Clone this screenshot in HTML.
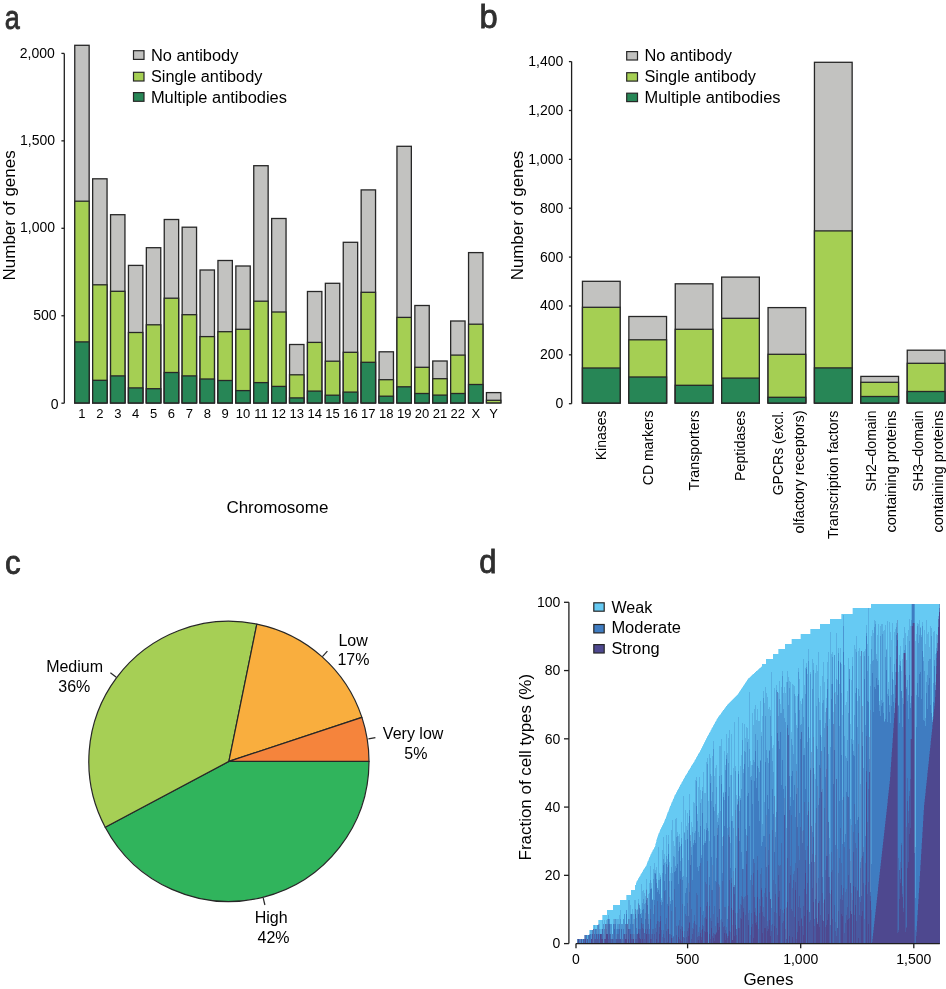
<!DOCTYPE html>
<html><head><meta charset="utf-8"><style>
html,body{margin:0;padding:0;background:#fff;}
svg{display:block;font-family:"Liberation Sans", sans-serif;will-change:transform;}
</style></head><body>
<svg width="946" height="989" viewBox="0 0 946 989">
<rect width="946" height="989" fill="#fff"/>
<text x="4.8" y="28.5" font-size="33" fill="#2f2f2f" stroke="#2f2f2f" stroke-width="0.85" textLength="15.0" lengthAdjust="spacingAndGlyphs">a</text>
<text x="479.6" y="28.1" font-size="34" fill="#2f2f2f" stroke="#2f2f2f" stroke-width="0.85" textLength="18.2" lengthAdjust="spacingAndGlyphs">b</text>
<text x="5.0" y="573.6" font-size="33.5" fill="#2f2f2f" stroke="#2f2f2f" stroke-width="0.85" textLength="15.6" lengthAdjust="spacingAndGlyphs">c</text>
<text x="479.2" y="573.3" font-size="34" fill="#2f2f2f" stroke="#2f2f2f" stroke-width="0.85" textLength="17.2" lengthAdjust="spacingAndGlyphs">d</text>
<path d="M64.3,53.40V403.20" stroke="#1e1e1e" stroke-width="1.3" fill="none"/>
<path d="M61.4,403.20H64.3" stroke="#1e1e1e" stroke-width="1.3"/>
<path d="M61.4,315.75H64.3" stroke="#1e1e1e" stroke-width="1.3"/>
<path d="M61.4,228.30H64.3" stroke="#1e1e1e" stroke-width="1.3"/>
<path d="M61.4,140.85H64.3" stroke="#1e1e1e" stroke-width="1.3"/>
<path d="M61.4,53.40H64.3" stroke="#1e1e1e" stroke-width="1.3"/>
<text x="58.50" y="409.20" font-size="14" text-anchor="end">0</text>
<text x="56.50" y="319.80" font-size="14" text-anchor="end">500</text>
<text x="55.00" y="232.40" font-size="14" text-anchor="end">1,000</text>
<text x="55.00" y="145.20" font-size="14" text-anchor="end">1,500</text>
<text x="54.80" y="57.90" font-size="14" text-anchor="end">2,000</text>
<rect x="74.75" y="45.30" width="14.40" height="357.60" fill="#c2c2c0" stroke="#272727" stroke-width="1.3"/>
<rect x="74.75" y="201.20" width="14.40" height="201.70" fill="#a5cf53" stroke="#272727" stroke-width="1.3"/>
<rect x="74.75" y="341.90" width="14.40" height="61.00" fill="#278656" stroke="#272727" stroke-width="1.3"/>
<text x="81.95" y="417.60" font-size="13" text-anchor="middle">1</text>
<rect x="92.65" y="178.80" width="14.40" height="224.10" fill="#c2c2c0" stroke="#272727" stroke-width="1.3"/>
<rect x="92.65" y="284.80" width="14.40" height="118.10" fill="#a5cf53" stroke="#272727" stroke-width="1.3"/>
<rect x="92.65" y="380.30" width="14.40" height="22.60" fill="#278656" stroke="#272727" stroke-width="1.3"/>
<text x="99.85" y="417.60" font-size="13" text-anchor="middle">2</text>
<rect x="110.55" y="214.70" width="14.40" height="188.20" fill="#c2c2c0" stroke="#272727" stroke-width="1.3"/>
<rect x="110.55" y="291.30" width="14.40" height="111.60" fill="#a5cf53" stroke="#272727" stroke-width="1.3"/>
<rect x="110.55" y="375.90" width="14.40" height="27.00" fill="#278656" stroke="#272727" stroke-width="1.3"/>
<text x="117.75" y="417.60" font-size="13" text-anchor="middle">3</text>
<rect x="128.45" y="265.40" width="14.40" height="137.50" fill="#c2c2c0" stroke="#272727" stroke-width="1.3"/>
<rect x="128.45" y="332.50" width="14.40" height="70.40" fill="#a5cf53" stroke="#272727" stroke-width="1.3"/>
<rect x="128.45" y="387.90" width="14.40" height="15.00" fill="#278656" stroke="#272727" stroke-width="1.3"/>
<text x="135.65" y="417.60" font-size="13" text-anchor="middle">4</text>
<rect x="146.35" y="247.70" width="14.40" height="155.20" fill="#c2c2c0" stroke="#272727" stroke-width="1.3"/>
<rect x="146.35" y="324.80" width="14.40" height="78.10" fill="#a5cf53" stroke="#272727" stroke-width="1.3"/>
<rect x="146.35" y="388.70" width="14.40" height="14.20" fill="#278656" stroke="#272727" stroke-width="1.3"/>
<text x="153.55" y="417.60" font-size="13" text-anchor="middle">5</text>
<rect x="164.25" y="219.50" width="14.40" height="183.40" fill="#c2c2c0" stroke="#272727" stroke-width="1.3"/>
<rect x="164.25" y="298.20" width="14.40" height="104.70" fill="#a5cf53" stroke="#272727" stroke-width="1.3"/>
<rect x="164.25" y="372.50" width="14.40" height="30.40" fill="#278656" stroke="#272727" stroke-width="1.3"/>
<text x="171.45" y="417.60" font-size="13" text-anchor="middle">6</text>
<rect x="182.15" y="227.20" width="14.40" height="175.70" fill="#c2c2c0" stroke="#272727" stroke-width="1.3"/>
<rect x="182.15" y="314.70" width="14.40" height="88.20" fill="#a5cf53" stroke="#272727" stroke-width="1.3"/>
<rect x="182.15" y="375.90" width="14.40" height="27.00" fill="#278656" stroke="#272727" stroke-width="1.3"/>
<text x="189.35" y="417.60" font-size="13" text-anchor="middle">7</text>
<rect x="200.05" y="270.00" width="14.40" height="132.90" fill="#c2c2c0" stroke="#272727" stroke-width="1.3"/>
<rect x="200.05" y="336.60" width="14.40" height="66.30" fill="#a5cf53" stroke="#272727" stroke-width="1.3"/>
<rect x="200.05" y="379.00" width="14.40" height="23.90" fill="#278656" stroke="#272727" stroke-width="1.3"/>
<text x="207.25" y="417.60" font-size="13" text-anchor="middle">8</text>
<rect x="217.95" y="260.50" width="14.40" height="142.40" fill="#c2c2c0" stroke="#272727" stroke-width="1.3"/>
<rect x="217.95" y="331.70" width="14.40" height="71.20" fill="#a5cf53" stroke="#272727" stroke-width="1.3"/>
<rect x="217.95" y="380.50" width="14.40" height="22.40" fill="#278656" stroke="#272727" stroke-width="1.3"/>
<text x="225.15" y="417.60" font-size="13" text-anchor="middle">9</text>
<rect x="235.85" y="266.00" width="14.40" height="136.90" fill="#c2c2c0" stroke="#272727" stroke-width="1.3"/>
<rect x="235.85" y="329.30" width="14.40" height="73.60" fill="#a5cf53" stroke="#272727" stroke-width="1.3"/>
<rect x="235.85" y="390.60" width="14.40" height="12.30" fill="#278656" stroke="#272727" stroke-width="1.3"/>
<text x="243.05" y="417.60" font-size="13" text-anchor="middle">10</text>
<rect x="253.75" y="165.70" width="14.40" height="237.20" fill="#c2c2c0" stroke="#272727" stroke-width="1.3"/>
<rect x="253.75" y="301.20" width="14.40" height="101.70" fill="#a5cf53" stroke="#272727" stroke-width="1.3"/>
<rect x="253.75" y="382.60" width="14.40" height="20.30" fill="#278656" stroke="#272727" stroke-width="1.3"/>
<text x="260.95" y="417.60" font-size="13" text-anchor="middle">11</text>
<rect x="271.65" y="218.50" width="14.40" height="184.40" fill="#c2c2c0" stroke="#272727" stroke-width="1.3"/>
<rect x="271.65" y="312.00" width="14.40" height="90.90" fill="#a5cf53" stroke="#272727" stroke-width="1.3"/>
<rect x="271.65" y="386.40" width="14.40" height="16.50" fill="#278656" stroke="#272727" stroke-width="1.3"/>
<text x="278.85" y="417.60" font-size="13" text-anchor="middle">12</text>
<rect x="289.55" y="344.50" width="14.40" height="58.40" fill="#c2c2c0" stroke="#272727" stroke-width="1.3"/>
<rect x="289.55" y="374.80" width="14.40" height="28.10" fill="#a5cf53" stroke="#272727" stroke-width="1.3"/>
<rect x="289.55" y="397.90" width="14.40" height="5.00" fill="#278656" stroke="#272727" stroke-width="1.3"/>
<text x="296.75" y="417.60" font-size="13" text-anchor="middle">13</text>
<rect x="307.45" y="291.50" width="14.40" height="111.40" fill="#c2c2c0" stroke="#272727" stroke-width="1.3"/>
<rect x="307.45" y="342.40" width="14.40" height="60.50" fill="#a5cf53" stroke="#272727" stroke-width="1.3"/>
<rect x="307.45" y="391.10" width="14.40" height="11.80" fill="#278656" stroke="#272727" stroke-width="1.3"/>
<text x="314.65" y="417.60" font-size="13" text-anchor="middle">14</text>
<rect x="325.35" y="283.30" width="14.40" height="119.60" fill="#c2c2c0" stroke="#272727" stroke-width="1.3"/>
<rect x="325.35" y="361.20" width="14.40" height="41.70" fill="#a5cf53" stroke="#272727" stroke-width="1.3"/>
<rect x="325.35" y="395.20" width="14.40" height="7.70" fill="#278656" stroke="#272727" stroke-width="1.3"/>
<text x="332.55" y="417.60" font-size="13" text-anchor="middle">15</text>
<rect x="343.25" y="242.30" width="14.40" height="160.60" fill="#c2c2c0" stroke="#272727" stroke-width="1.3"/>
<rect x="343.25" y="352.30" width="14.40" height="50.60" fill="#a5cf53" stroke="#272727" stroke-width="1.3"/>
<rect x="343.25" y="392.10" width="14.40" height="10.80" fill="#278656" stroke="#272727" stroke-width="1.3"/>
<text x="350.45" y="417.60" font-size="13" text-anchor="middle">16</text>
<rect x="361.15" y="189.90" width="14.40" height="213.00" fill="#c2c2c0" stroke="#272727" stroke-width="1.3"/>
<rect x="361.15" y="292.30" width="14.40" height="110.60" fill="#a5cf53" stroke="#272727" stroke-width="1.3"/>
<rect x="361.15" y="362.30" width="14.40" height="40.60" fill="#278656" stroke="#272727" stroke-width="1.3"/>
<text x="368.35" y="417.60" font-size="13" text-anchor="middle">17</text>
<rect x="379.05" y="351.80" width="14.40" height="51.10" fill="#c2c2c0" stroke="#272727" stroke-width="1.3"/>
<rect x="379.05" y="379.70" width="14.40" height="23.20" fill="#a5cf53" stroke="#272727" stroke-width="1.3"/>
<rect x="379.05" y="396.20" width="14.40" height="6.70" fill="#278656" stroke="#272727" stroke-width="1.3"/>
<text x="386.25" y="417.60" font-size="13" text-anchor="middle">18</text>
<rect x="396.95" y="146.30" width="14.40" height="256.60" fill="#c2c2c0" stroke="#272727" stroke-width="1.3"/>
<rect x="396.95" y="317.40" width="14.40" height="85.50" fill="#a5cf53" stroke="#272727" stroke-width="1.3"/>
<rect x="396.95" y="386.80" width="14.40" height="16.10" fill="#278656" stroke="#272727" stroke-width="1.3"/>
<text x="404.15" y="417.60" font-size="13" text-anchor="middle">19</text>
<rect x="414.85" y="305.50" width="14.40" height="97.40" fill="#c2c2c0" stroke="#272727" stroke-width="1.3"/>
<rect x="414.85" y="367.30" width="14.40" height="35.60" fill="#a5cf53" stroke="#272727" stroke-width="1.3"/>
<rect x="414.85" y="393.50" width="14.40" height="9.40" fill="#278656" stroke="#272727" stroke-width="1.3"/>
<text x="422.05" y="417.60" font-size="13" text-anchor="middle">20</text>
<rect x="432.75" y="361.00" width="14.40" height="41.90" fill="#c2c2c0" stroke="#272727" stroke-width="1.3"/>
<rect x="432.75" y="378.70" width="14.40" height="24.20" fill="#a5cf53" stroke="#272727" stroke-width="1.3"/>
<rect x="432.75" y="395.10" width="14.40" height="7.80" fill="#278656" stroke="#272727" stroke-width="1.3"/>
<text x="439.95" y="417.60" font-size="13" text-anchor="middle">21</text>
<rect x="450.65" y="321.00" width="14.40" height="81.90" fill="#c2c2c0" stroke="#272727" stroke-width="1.3"/>
<rect x="450.65" y="355.10" width="14.40" height="47.80" fill="#a5cf53" stroke="#272727" stroke-width="1.3"/>
<rect x="450.65" y="393.50" width="14.40" height="9.40" fill="#278656" stroke="#272727" stroke-width="1.3"/>
<text x="457.85" y="417.60" font-size="13" text-anchor="middle">22</text>
<rect x="468.55" y="252.60" width="14.40" height="150.30" fill="#c2c2c0" stroke="#272727" stroke-width="1.3"/>
<rect x="468.55" y="324.20" width="14.40" height="78.70" fill="#a5cf53" stroke="#272727" stroke-width="1.3"/>
<rect x="468.55" y="384.50" width="14.40" height="18.40" fill="#278656" stroke="#272727" stroke-width="1.3"/>
<text x="475.75" y="417.60" font-size="13" text-anchor="middle">X</text>
<rect x="486.45" y="392.60" width="14.40" height="10.30" fill="#c2c2c0" stroke="#272727" stroke-width="1.3"/>
<rect x="486.45" y="400.30" width="14.40" height="2.60" fill="#a5cf53" stroke="#272727" stroke-width="1.3"/>
<text x="493.65" y="417.60" font-size="13" text-anchor="middle">Y</text>
<text x="277.40" y="513.00" font-size="17" text-anchor="middle" textLength="102.00" lengthAdjust="spacingAndGlyphs">Chromosome</text>
<text x="14.80" y="215.40" font-size="17" text-anchor="middle" textLength="130.00" lengthAdjust="spacingAndGlyphs" transform="rotate(-90 14.80 215.40)">Number of genes</text>
<rect x="133.50" y="50.70" width="10.50" height="8.70" fill="#c2c2c0" stroke="#272727" stroke-width="1.2"/>
<text x="150.90" y="61.00" font-size="16" textLength="87.50" lengthAdjust="spacingAndGlyphs">No antibody</text>
<rect x="133.50" y="72.30" width="10.50" height="8.70" fill="#a5cf53" stroke="#272727" stroke-width="1.2"/>
<text x="150.90" y="81.80" font-size="16" textLength="111.50" lengthAdjust="spacingAndGlyphs">Single antibody</text>
<rect x="133.50" y="92.60" width="10.50" height="8.70" fill="#278656" stroke="#272727" stroke-width="1.2"/>
<text x="150.90" y="102.60" font-size="16" textLength="136.00" lengthAdjust="spacingAndGlyphs">Multiple antibodies</text>
<path d="M571.6,61.61V403.70" stroke="#1e1e1e" stroke-width="1.3" fill="none"/>
<path d="M568.9,403.70H571.6" stroke="#1e1e1e" stroke-width="1.3"/>
<text x="563.30" y="408.20" font-size="14" text-anchor="end">0</text>
<path d="M568.9,354.83H571.6" stroke="#1e1e1e" stroke-width="1.3"/>
<text x="563.30" y="359.33" font-size="14" text-anchor="end">200</text>
<path d="M568.9,305.96H571.6" stroke="#1e1e1e" stroke-width="1.3"/>
<text x="563.30" y="310.46" font-size="14" text-anchor="end">400</text>
<path d="M568.9,257.09H571.6" stroke="#1e1e1e" stroke-width="1.3"/>
<text x="563.30" y="261.59" font-size="14" text-anchor="end">600</text>
<path d="M568.9,208.22H571.6" stroke="#1e1e1e" stroke-width="1.3"/>
<text x="563.30" y="212.72" font-size="14" text-anchor="end">800</text>
<path d="M568.9,159.35H571.6" stroke="#1e1e1e" stroke-width="1.3"/>
<text x="563.30" y="163.85" font-size="14" text-anchor="end">1,000</text>
<path d="M568.9,110.48H571.6" stroke="#1e1e1e" stroke-width="1.3"/>
<text x="563.30" y="114.98" font-size="14" text-anchor="end">1,200</text>
<path d="M568.9,61.61H571.6" stroke="#1e1e1e" stroke-width="1.3"/>
<text x="563.30" y="66.11" font-size="14" text-anchor="end">1,400</text>
<rect x="582.45" y="281.30" width="37.70" height="121.70" fill="#c2c2c0" stroke="#272727" stroke-width="1.3"/>
<rect x="582.45" y="307.30" width="37.70" height="95.70" fill="#a5cf53" stroke="#272727" stroke-width="1.3"/>
<rect x="582.45" y="368.00" width="37.70" height="35.00" fill="#278656" stroke="#272727" stroke-width="1.3"/>
<rect x="628.85" y="316.50" width="37.70" height="86.50" fill="#c2c2c0" stroke="#272727" stroke-width="1.3"/>
<rect x="628.85" y="339.80" width="37.70" height="63.20" fill="#a5cf53" stroke="#272727" stroke-width="1.3"/>
<rect x="628.85" y="377.00" width="37.70" height="26.00" fill="#278656" stroke="#272727" stroke-width="1.3"/>
<rect x="675.25" y="283.80" width="37.70" height="119.20" fill="#c2c2c0" stroke="#272727" stroke-width="1.3"/>
<rect x="675.25" y="329.30" width="37.70" height="73.70" fill="#a5cf53" stroke="#272727" stroke-width="1.3"/>
<rect x="675.25" y="385.30" width="37.70" height="17.70" fill="#278656" stroke="#272727" stroke-width="1.3"/>
<rect x="721.65" y="277.10" width="37.70" height="125.90" fill="#c2c2c0" stroke="#272727" stroke-width="1.3"/>
<rect x="721.65" y="318.30" width="37.70" height="84.70" fill="#a5cf53" stroke="#272727" stroke-width="1.3"/>
<rect x="721.65" y="378.10" width="37.70" height="24.90" fill="#278656" stroke="#272727" stroke-width="1.3"/>
<rect x="768.05" y="307.60" width="37.70" height="95.40" fill="#c2c2c0" stroke="#272727" stroke-width="1.3"/>
<rect x="768.05" y="354.30" width="37.70" height="48.70" fill="#a5cf53" stroke="#272727" stroke-width="1.3"/>
<rect x="768.05" y="397.30" width="37.70" height="5.70" fill="#278656" stroke="#272727" stroke-width="1.3"/>
<rect x="814.45" y="62.30" width="37.70" height="340.70" fill="#c2c2c0" stroke="#272727" stroke-width="1.3"/>
<rect x="814.45" y="230.90" width="37.70" height="172.10" fill="#a5cf53" stroke="#272727" stroke-width="1.3"/>
<rect x="814.45" y="367.90" width="37.70" height="35.10" fill="#278656" stroke="#272727" stroke-width="1.3"/>
<rect x="860.85" y="376.40" width="37.70" height="26.60" fill="#c2c2c0" stroke="#272727" stroke-width="1.3"/>
<rect x="860.85" y="382.30" width="37.70" height="20.70" fill="#a5cf53" stroke="#272727" stroke-width="1.3"/>
<rect x="860.85" y="396.50" width="37.70" height="6.50" fill="#278656" stroke="#272727" stroke-width="1.3"/>
<rect x="907.25" y="350.20" width="37.70" height="52.80" fill="#c2c2c0" stroke="#272727" stroke-width="1.3"/>
<rect x="907.25" y="363.30" width="37.70" height="39.70" fill="#a5cf53" stroke="#272727" stroke-width="1.3"/>
<rect x="907.25" y="391.50" width="37.70" height="11.50" fill="#278656" stroke="#272727" stroke-width="1.3"/>
<text x="605.50" y="410.50" font-size="14" text-anchor="end" transform="rotate(-90 605.50 410.50)">Kinases</text>
<text x="652.60" y="410.50" font-size="14" text-anchor="end" transform="rotate(-90 652.60 410.50)">CD markers</text>
<text x="699.20" y="410.50" font-size="14" text-anchor="end" textLength="80.00" lengthAdjust="spacingAndGlyphs" transform="rotate(-90 699.20 410.50)">Transporters</text>
<text x="745.40" y="410.50" font-size="14" text-anchor="end" textLength="70.50" lengthAdjust="spacingAndGlyphs" transform="rotate(-90 745.40 410.50)">Peptidases</text>
<text x="783.10" y="410.50" font-size="14" text-anchor="end" transform="rotate(-90 783.10 410.50)">GPCRs (excl.</text>
<text x="804.30" y="410.50" font-size="14" text-anchor="end" textLength="123.00" lengthAdjust="spacingAndGlyphs" transform="rotate(-90 804.30 410.50)">olfactory receptors)</text>
<text x="838.00" y="410.50" font-size="14" text-anchor="end" textLength="128.60" lengthAdjust="spacingAndGlyphs" transform="rotate(-90 838.00 410.50)">Transcription factors</text>
<text x="876.40" y="410.50" font-size="14" text-anchor="end" transform="rotate(-90 876.40 410.50)">SH2–domain</text>
<text x="896.00" y="410.50" font-size="14" text-anchor="end" textLength="122.00" lengthAdjust="spacingAndGlyphs" transform="rotate(-90 896.00 410.50)">containing proteins</text>
<text x="922.60" y="410.50" font-size="14" text-anchor="end" transform="rotate(-90 922.60 410.50)">SH3–domain</text>
<text x="942.70" y="410.50" font-size="14" text-anchor="end" textLength="122.00" lengthAdjust="spacingAndGlyphs" transform="rotate(-90 942.70 410.50)">containing proteins</text>
<text x="522.80" y="215.50" font-size="17" text-anchor="middle" textLength="129.60" lengthAdjust="spacingAndGlyphs" transform="rotate(-90 522.80 215.50)">Number of genes</text>
<rect x="626.70" y="51.60" width="10.80" height="8.40" fill="#c2c2c0" stroke="#272727" stroke-width="1.2"/>
<text x="644.50" y="61.00" font-size="16" textLength="87.50" lengthAdjust="spacingAndGlyphs">No antibody</text>
<rect x="626.70" y="72.70" width="10.80" height="8.40" fill="#a5cf53" stroke="#272727" stroke-width="1.2"/>
<text x="644.50" y="81.80" font-size="16" textLength="111.50" lengthAdjust="spacingAndGlyphs">Single antibody</text>
<rect x="626.70" y="93.20" width="10.80" height="8.40" fill="#278656" stroke="#272727" stroke-width="1.2"/>
<text x="644.50" y="102.60" font-size="16" textLength="136.00" lengthAdjust="spacingAndGlyphs">Multiple antibodies</text>
<path d="M228.9,761.4L369.00,761.40A140.1,140.1 0 0 1 105.20,827.17Z" fill="#30b45c" stroke="#272727" stroke-width="1.2" stroke-linejoin="round"/>
<path d="M228.9,761.4L105.20,827.17A140.1,140.1 0 0 1 256.83,624.11Z" fill="#a6cf55" stroke="#272727" stroke-width="1.2" stroke-linejoin="round"/>
<path d="M228.9,761.4L256.83,624.11A140.1,140.1 0 0 1 361.91,717.41Z" fill="#f9ae3e" stroke="#272727" stroke-width="1.2" stroke-linejoin="round"/>
<path d="M228.9,761.4L361.91,717.41A140.1,140.1 0 0 1 369.00,761.40Z" fill="#f5843c" stroke="#272727" stroke-width="1.2" stroke-linejoin="round"/>
<path d="M110.4,672.8L116.3,677.3" stroke="#272727" stroke-width="1.2"/>
<path d="M322.4,656.6L327.4,651.1" stroke="#272727" stroke-width="1.2"/>
<path d="M368.4,738.8L375.4,737.6" stroke="#272727" stroke-width="1.2"/>
<path d="M263.2,898.0L264.9,905.0" stroke="#272727" stroke-width="1.2"/>
<text x="74.60" y="671.90" font-size="16" text-anchor="middle">Medium</text>
<text x="74.30" y="691.60" font-size="16" text-anchor="middle">36%</text>
<text x="353.10" y="645.50" font-size="16" text-anchor="middle">Low</text>
<text x="353.40" y="664.80" font-size="16" text-anchor="middle">17%</text>
<text x="413.10" y="738.80" font-size="16" text-anchor="middle">Very low</text>
<text x="415.80" y="758.60" font-size="16" text-anchor="middle">5%</text>
<text x="271.10" y="923.30" font-size="16" text-anchor="middle">High</text>
<text x="273.50" y="942.80" font-size="16" text-anchor="middle">42%</text>
<path d="M577 939h1v5h-1zM580 939h1v5h-1zM592 930h1v4h-1zM596 929h1v5h-1zM598 925h1v9h-1zM603 934h1v10h-1zM604 929h1v10h-1zM606 924h1v5h-1zM607 924h1v10h-1zM612 934h1v5h-1zM614 924h1v5h-1zM616 934h1v5h-1zM619 924h1v5h-1zM625 924h1v10h-1zM628 919h1v10h-1zM633 924h1v10h-1zM634 934h1v10h-1zM635 909h1v5h-1zM638 904h1v10h-1zM645 913h1v6h-1zM646 890h1v10h-1zM647 898h1v7h-1zM648 919h1v5h-1zM669 897h1v37h-1zM688 883h1v33h-1zM690 841h1v24h-1zM712 865h1v25h-1zM717 828h1v7h-1zM719 885h1v2h-1zM720 920h1v23h-1zM729 827h1v10h-1zM732 910h1v15h-1zM733 871h1v16h-1zM734 885h1v2h-1zM735 810h1v58h-1zM766 815h1v52h-1zM774 796h1v56h-1zM777 692h1v41h-1zM784 798h1v17h-1zM786 907h1v1h-1zM796 771h1v23h-1zM797 788h1v39h-1zM802 831h1v12h-1zM810 768h1v2h-1zM813 737h1v31h-1zM814 862h1v57h-1zM815 823h1v32h-1zM817 786h1v136h-1zM821 751h1v41h-1zM822 789h1v88h-1zM823 903h1v18h-1zM826 708h1v61h-1zM829 854h1v23h-1zM830 894h1v31h-1zM833 724h1v60h-1zM834 693h1v57h-1zM837 849h1v79h-1zM850 861h1v22h-1zM851 825h1v68h-1zM858 744h1v73h-1zM861 651h1v207h-1zM862 732h1v14h-1zM863 847h1v5h-1zM869 759h1v13h-1zM870 710h1v182h-1zM894 708h1v5h-1zM903 653h1v51h-1zM911 626h1v70h-1zM935 685h1v5h-1z" fill="#5185c1"/>
<path d="M578 939h1v5h-1zM585 939h1v5h-1zM591 939h1v5h-1zM600 934h1v10h-1zM601 939h1v5h-1zM602 939h1v5h-1zM605 939h1v5h-1zM606 934h1v10h-1zM607 934h1v10h-1zM625 939h1v5h-1zM626 939h1v5h-1zM628 939h1v5h-1zM630 934h1v10h-1zM633 939h1v5h-1zM638 933h1v11h-1zM639 938h1v6h-1zM640 939h1v5h-1zM642 939h1v5h-1zM646 934h1v10h-1zM650 939h1v5h-1zM656 939h1v5h-1zM659 934h1v10h-1zM660 921h1v23h-1zM668 929h1v15h-1zM671 938h1v6h-1zM678 937h1v7h-1zM680 940h1v4h-1zM682 931h1v13h-1zM688 936h1v8h-1zM689 923h1v21h-1zM698 940h1v4h-1zM700 933h1v11h-1zM701 940h1v4h-1zM702 929h1v15h-1zM705 932h1v12h-1zM706 919h1v25h-1zM707 932h1v12h-1zM709 934h1v10h-1zM711 928h1v16h-1zM713 938h1v6h-1zM714 941h1v3h-1zM715 935h1v9h-1zM716 933h1v11h-1zM717 923h1v21h-1zM718 930h1v14h-1zM719 927h1v17h-1zM724 933h1v11h-1zM725 940h1v4h-1zM726 934h1v10h-1zM728 936h1v8h-1zM729 931h1v13h-1zM731 908h1v36h-1zM732 940h1v4h-1zM733 910h1v34h-1zM734 936h1v8h-1zM735 925h1v19h-1zM738 928h1v16h-1zM741 919h1v25h-1zM743 912h1v32h-1zM748 925h1v19h-1zM751 927h1v17h-1zM753 938h1v6h-1zM754 912h1v32h-1zM755 923h1v21h-1zM756 925h1v19h-1zM757 897h1v47h-1zM761 890h1v54h-1zM762 933h1v11h-1zM764 928h1v16h-1zM765 928h1v16h-1zM767 931h1v13h-1zM768 929h1v15h-1zM769 920h1v24h-1zM770 936h1v8h-1zM774 926h1v18h-1zM778 897h1v47h-1zM779 916h1v28h-1zM784 909h1v35h-1zM787 902h1v42h-1zM789 936h1v8h-1zM792 937h1v7h-1zM795 890h1v54h-1zM797 932h1v12h-1zM798 921h1v23h-1zM799 926h1v18h-1zM801 919h1v25h-1zM803 935h1v9h-1zM804 916h1v28h-1zM805 873h1v71h-1zM807 910h1v34h-1zM813 902h1v42h-1zM816 918h1v26h-1zM817 924h1v20h-1zM818 903h1v41h-1zM819 927h1v17h-1zM822 920h1v24h-1zM824 900h1v44h-1zM826 925h1v19h-1zM827 920h1v24h-1zM828 914h1v30h-1zM831 890h1v54h-1zM841 914h1v30h-1zM842 916h1v28h-1zM847 920h1v24h-1zM848 919h1v25h-1zM850 911h1v33h-1zM851 914h1v30h-1zM853 886h1v58h-1zM855 905h1v39h-1zM858 938h1v6h-1zM861 916h1v28h-1zM862 911h1v33h-1zM866 782h1v162h-1zM868 924h1v20h-1zM870 901h1v43h-1zM872 942h1v2h-1zM873 933h1v11h-1zM874 924h1v20h-1zM875 915h1v29h-1zM876 906h1v38h-1zM877 897h1v47h-1zM878 887h1v57h-1zM879 878h1v66h-1zM880 869h1v75h-1zM881 860h1v84h-1zM882 851h1v93h-1zM883 842h1v102h-1zM884 833h1v111h-1zM885 824h1v120h-1zM886 815h1v129h-1zM887 806h1v138h-1zM888 796h1v148h-1zM889 787h1v157h-1zM890 777h1v167h-1zM891 762h1v182h-1zM892 748h1v196h-1zM893 733h1v211h-1zM894 718h1v226h-1zM895 703h1v241h-1zM896 672h1v272h-1zM897 933h1v11h-1zM898 932h1v12h-1zM899 899h1v45h-1zM900 883h1v61h-1zM901 868h1v76h-1zM902 897h1v47h-1zM903 912h1v32h-1zM904 653h1v291h-1zM905 932h1v12h-1zM906 928h1v16h-1zM907 868h1v76h-1zM908 862h1v82h-1zM909 834h1v110h-1zM910 828h1v116h-1zM911 739h1v205h-1zM912 626h1v318h-1zM913 623h1v321h-1zM916 936h1v8h-1zM917 921h1v23h-1zM918 904h1v40h-1zM919 888h1v56h-1zM920 871h1v73h-1zM921 854h1v90h-1zM922 838h1v106h-1zM923 821h1v123h-1zM924 805h1v139h-1zM925 796h1v148h-1zM926 786h1v158h-1zM927 777h1v167h-1zM928 767h1v177h-1zM929 757h1v187h-1zM930 748h1v196h-1zM931 738h1v206h-1zM932 729h1v215h-1zM933 719h1v225h-1zM934 709h1v235h-1zM935 697h1v247h-1zM936 674h1v270h-1zM937 651h1v293h-1zM938 627h1v317h-1zM939 612h1v332h-1z" fill="#4e488f"/>
<path d="M579 939h1v5h-1zM586 935h1v9h-1zM588 935h1v9h-1zM590 934h1v10h-1zM595 929h1v10h-1zM597 934h1v5h-1zM599 934h1v5h-1zM608 919h1v5h-1zM613 924h1v15h-1zM615 924h1v15h-1zM617 929h1v5h-1zM618 929h1v5h-1zM623 929h1v5h-1zM626 914h1v10h-1zM630 924h1v5h-1zM631 914h1v20h-1zM632 924h1v10h-1zM636 928h1v6h-1zM639 908h1v21h-1zM640 914h1v15h-1zM642 910h1v14h-1zM643 909h1v15h-1zM649 929h1v5h-1zM650 889h1v20h-1zM651 889h1v45h-1zM652 900h1v29h-1zM653 914h1v15h-1zM654 900h1v5h-1zM655 874h1v54h-1zM656 883h1v41h-1zM657 892h1v9h-1zM658 890h1v31h-1zM659 894h1v28h-1zM660 879h1v23h-1zM661 905h1v25h-1zM662 902h1v35h-1zM663 865h1v65h-1zM664 881h1v10h-1zM665 890h1v34h-1zM666 864h1v54h-1zM667 904h1v25h-1zM668 854h1v11h-1zM670 904h1v30h-1zM671 881h1v30h-1zM672 900h1v38h-1zM673 936h1v1h-1zM674 872h1v17h-1zM675 871h1v36h-1zM676 868h1v58h-1zM677 864h1v80h-1zM678 884h1v41h-1zM679 847h1v73h-1zM680 871h1v8h-1zM681 844h1v82h-1zM682 880h1v24h-1zM684 906h1v25h-1zM685 893h1v21h-1zM686 888h1v28h-1zM687 839h1v64h-1zM689 816h1v76h-1zM691 855h1v54h-1zM692 880h1v48h-1zM693 845h1v78h-1zM694 840h1v75h-1zM695 843h1v81h-1zM696 806h1v87h-1zM697 867h1v28h-1zM698 871h1v61h-1zM699 866h1v61h-1zM700 826h1v37h-1zM701 858h1v72h-1zM702 813h1v102h-1zM703 911h1v15h-1zM704 843h1v75h-1zM705 843h1v39h-1zM706 830h1v54h-1zM707 828h1v33h-1zM709 877h1v8h-1zM710 783h1v135h-1zM711 857h1v33h-1zM713 807h1v107h-1zM714 836h1v70h-1zM715 881h1v45h-1zM716 858h1v24h-1zM718 825h1v59h-1zM721 784h1v135h-1zM722 873h1v8h-1zM723 797h1v39h-1zM724 826h1v81h-1zM725 792h1v115h-1zM726 759h1v168h-1zM727 919h1v17h-1zM728 796h1v39h-1zM730 868h1v64h-1zM731 821h1v57h-1zM737 805h1v108h-1zM738 774h1v27h-1zM739 841h1v68h-1zM740 800h1v104h-1zM741 852h1v44h-1zM743 869h1v30h-1zM744 764h1v133h-1zM745 829h1v67h-1zM747 796h1v40h-1zM748 793h1v120h-1zM749 826h1v84h-1zM750 880h1v55h-1zM751 780h1v95h-1zM752 804h1v81h-1zM754 781h1v82h-1zM755 751h1v157h-1zM756 788h1v128h-1zM757 766h1v90h-1zM758 801h1v128h-1zM759 821h1v78h-1zM760 761h1v113h-1zM761 846h1v22h-1zM762 842h1v55h-1zM763 836h1v71h-1zM764 836h1v57h-1zM765 762h1v85h-1zM767 795h1v126h-1zM768 809h1v41h-1zM769 751h1v83h-1zM771 908h1v17h-1zM772 789h1v41h-1zM773 814h1v66h-1zM775 837h1v47h-1zM776 812h1v101h-1zM778 741h1v124h-1zM779 749h1v117h-1zM780 732h1v133h-1zM781 785h1v58h-1zM782 760h1v150h-1zM783 789h1v124h-1zM785 786h1v143h-1zM787 725h1v3h-1zM789 776h1v34h-1zM790 806h1v60h-1zM791 776h1v39h-1zM792 771h1v117h-1zM793 800h1v74h-1zM794 785h1v86h-1zM795 817h1v46h-1zM798 694h1v152h-1zM799 813h1v47h-1zM800 739h1v88h-1zM803 755h1v75h-1zM804 755h1v47h-1zM805 789h1v61h-1zM806 669h1v225h-1zM807 815h1v31h-1zM808 727h1v75h-1zM812 832h1v22h-1zM816 746h1v62h-1zM818 805h1v73h-1zM819 765h1v33h-1zM820 735h1v33h-1zM824 747h1v61h-1zM825 777h1v93h-1zM827 689h1v37h-1zM831 699h1v153h-1zM832 684h1v186h-1zM835 845h1v77h-1zM838 661h1v212h-1zM839 801h1v57h-1zM840 663h1v165h-1zM841 755h1v108h-1zM842 844h1v51h-1zM843 652h1v145h-1zM844 842h1v5h-1zM845 834h1v58h-1zM846 792h1v97h-1zM847 761h1v35h-1zM849 679h1v170h-1zM852 744h1v156h-1zM853 755h1v77h-1zM854 756h1v48h-1zM855 824h1v19h-1zM856 688h1v160h-1zM857 820h1v70h-1zM860 862h1v6h-1zM864 679h1v240h-1zM865 836h1v27h-1zM866 636h1v100h-1zM867 701h1v121h-1zM868 702h1v87h-1zM871 864h1v46h-1zM872 673h1v263h-1zM873 712h1v215h-1zM874 687h1v231h-1zM875 689h1v220h-1zM876 678h1v222h-1zM877 685h1v206h-1zM878 685h1v196h-1zM879 711h1v161h-1zM880 716h1v147h-1zM881 706h1v148h-1zM882 703h1v142h-1zM883 713h1v123h-1zM884 722h1v105h-1zM885 719h1v99h-1zM886 670h1v139h-1zM887 722h1v77h-1zM888 696h1v94h-1zM889 712h1v69h-1zM890 723h1v44h-1zM891 706h1v46h-1zM892 679h1v59h-1zM893 702h1v21h-1zM896 635h1v11h-1zM898 706h1v152h-1zM899 723h1v147h-1zM900 666h1v196h-1zM901 691h1v152h-1zM902 727h1v159h-1zM906 689h1v138h-1zM907 701h1v77h-1zM908 719h1v92h-1zM909 675h1v116h-1zM910 708h1v31h-1zM912 604h1v19h-1zM913 604h1v19h-1zM915 898h1v32h-1zM916 727h1v199h-1zM917 683h1v227h-1zM918 697h1v196h-1zM919 674h1v202h-1zM920 672h1v188h-1zM921 699h1v144h-1zM922 651h1v176h-1zM923 720h1v90h-1zM924 721h1v78h-1zM925 726h1v63h-1zM926 693h1v87h-1zM927 709h1v61h-1zM928 685h1v76h-1zM929 678h1v73h-1zM930 705h1v36h-1zM931 713h1v19h-1zM933 702h1v10h-1zM934 666h1v37h-1zM936 653h1v5h-1z" fill="#3f7cc1"/>
<path d="M581 939h1v5h-1zM583 939h1v5h-1zM587 939h1v5h-1zM592 934h1v10h-1zM594 939h1v5h-1zM595 939h1v5h-1zM596 934h1v10h-1zM597 939h1v5h-1zM598 934h1v10h-1zM601 934h1v5h-1zM604 939h1v5h-1zM608 939h1v5h-1zM609 934h1v10h-1zM610 939h1v5h-1zM612 939h1v5h-1zM616 939h1v5h-1zM617 939h1v5h-1zM618 939h1v5h-1zM619 939h1v5h-1zM620 939h1v5h-1zM624 934h1v10h-1zM626 934h1v5h-1zM628 929h1v10h-1zM631 939h1v5h-1zM632 939h1v5h-1zM635 939h1v5h-1zM636 939h1v5h-1zM637 934h1v10h-1zM638 929h1v4h-1zM639 934h1v4h-1zM641 923h1v21h-1zM642 928h1v11h-1zM643 929h1v15h-1zM644 939h1v5h-1zM645 929h1v15h-1zM647 929h1v15h-1zM648 934h1v10h-1zM650 919h1v20h-1zM651 939h1v5h-1zM652 934h1v10h-1zM654 934h1v10h-1zM656 932h1v7h-1zM657 921h1v23h-1zM658 942h1v2h-1zM659 927h1v7h-1zM660 916h1v5h-1zM663 934h1v10h-1zM664 938h1v6h-1zM666 931h1v13h-1zM667 942h1v2h-1zM668 906h1v23h-1zM671 935h1v3h-1zM676 935h1v9h-1zM678 926h1v11h-1zM679 939h1v5h-1zM680 929h1v11h-1zM681 941h1v3h-1zM682 927h1v4h-1zM684 938h1v6h-1zM686 937h1v7h-1zM687 931h1v13h-1zM688 928h1v8h-1zM689 922h1v1h-1zM691 939h1v5h-1zM692 934h1v10h-1zM693 929h1v15h-1zM694 921h1v23h-1zM696 925h1v19h-1zM697 937h1v7h-1zM698 936h1v4h-1zM699 936h1v8h-1zM700 907h1v26h-1zM701 937h1v3h-1zM702 925h1v4h-1zM704 931h1v13h-1zM705 917h1v15h-1zM706 906h1v13h-1zM707 902h1v30h-1zM709 906h1v28h-1zM710 939h1v5h-1zM711 921h1v7h-1zM712 936h1v8h-1zM713 933h1v5h-1zM714 934h1v7h-1zM715 934h1v1h-1zM716 932h1v1h-1zM717 917h1v6h-1zM718 923h1v7h-1zM719 909h1v18h-1zM720 943h1v1h-1zM722 922h1v22h-1zM723 927h1v17h-1zM724 926h1v7h-1zM725 930h1v10h-1zM726 933h1v1h-1zM727 938h1v6h-1zM728 906h1v30h-1zM729 880h1v51h-1zM731 883h1v25h-1zM733 887h1v23h-1zM734 894h1v42h-1zM735 913h1v12h-1zM736 935h1v9h-1zM738 828h1v100h-1zM739 928h1v16h-1zM740 918h1v26h-1zM741 905h1v14h-1zM742 897h1v47h-1zM743 908h1v4h-1zM745 915h1v29h-1zM746 864h1v80h-1zM747 895h1v49h-1zM748 920h1v5h-1zM751 913h1v14h-1zM752 924h1v20h-1zM753 873h1v65h-1zM754 897h1v15h-1zM755 915h1v8h-1zM756 922h1v3h-1zM757 870h1v27h-1zM759 913h1v31h-1zM760 906h1v38h-1zM761 888h1v2h-1zM762 912h1v21h-1zM763 916h1v28h-1zM764 917h1v11h-1zM765 888h1v40h-1zM766 897h1v47h-1zM767 926h1v5h-1zM768 865h1v64h-1zM769 892h1v28h-1zM770 899h1v37h-1zM771 931h1v13h-1zM772 924h1v20h-1zM774 912h1v14h-1zM775 894h1v50h-1zM776 928h1v16h-1zM777 935h1v9h-1zM778 875h1v22h-1zM779 891h1v25h-1zM780 909h1v35h-1zM782 923h1v21h-1zM783 921h1v23h-1zM784 815h1v94h-1zM786 939h1v5h-1zM787 858h1v44h-1zM789 883h1v53h-1zM790 875h1v69h-1zM791 909h1v35h-1zM792 911h1v26h-1zM793 880h1v64h-1zM794 917h1v27h-1zM795 882h1v8h-1zM796 939h1v5h-1zM797 868h1v64h-1zM798 907h1v14h-1zM799 896h1v30h-1zM800 908h1v36h-1zM801 918h1v1h-1zM802 926h1v18h-1zM803 906h1v29h-1zM804 889h1v27h-1zM805 860h1v13h-1zM807 883h1v27h-1zM808 811h1v133h-1zM809 922h1v22h-1zM810 920h1v24h-1zM811 862h1v82h-1zM812 888h1v56h-1zM813 837h1v65h-1zM814 926h1v18h-1zM815 899h1v45h-1zM816 883h1v35h-1zM819 901h1v26h-1zM820 915h1v29h-1zM821 792h1v152h-1zM822 893h1v27h-1zM823 921h1v23h-1zM824 899h1v1h-1zM825 927h1v17h-1zM826 856h1v69h-1zM827 856h1v64h-1zM828 877h1v37h-1zM829 893h1v51h-1zM831 872h1v18h-1zM832 919h1v25h-1zM834 905h1v39h-1zM835 931h1v13h-1zM836 936h1v8h-1zM837 928h1v16h-1zM838 911h1v33h-1zM840 899h1v45h-1zM841 885h1v29h-1zM842 900h1v16h-1zM843 888h1v56h-1zM844 933h1v11h-1zM845 923h1v21h-1zM846 915h1v29h-1zM847 907h1v13h-1zM848 875h1v44h-1zM849 918h1v26h-1zM850 883h1v28h-1zM853 852h1v34h-1zM854 915h1v29h-1zM855 887h1v18h-1zM856 921h1v23h-1zM857 891h1v53h-1zM858 833h1v105h-1zM859 915h1v29h-1zM860 902h1v42h-1zM861 896h1v20h-1zM862 856h1v55h-1zM863 883h1v61h-1zM865 885h1v59h-1zM866 771h1v11h-1zM867 894h1v50h-1zM868 882h1v42h-1zM869 772h1v172h-1zM870 896h1v5h-1zM872 939h1v3h-1zM873 930h1v3h-1zM874 921h1v3h-1zM875 912h1v3h-1zM876 903h1v3h-1zM877 894h1v3h-1zM878 884h1v3h-1zM879 875h1v3h-1zM880 866h1v3h-1zM881 857h1v3h-1zM882 848h1v3h-1zM883 839h1v3h-1zM884 830h1v3h-1zM885 821h1v3h-1zM886 812h1v3h-1zM887 803h1v3h-1zM888 793h1v3h-1zM889 784h1v3h-1zM890 772h1v5h-1zM891 757h1v5h-1zM892 743h1v5h-1zM893 728h1v5h-1zM894 713h1v5h-1zM895 698h1v5h-1zM896 659h1v13h-1zM897 640h1v293h-1zM898 930h1v2h-1zM899 870h1v29h-1zM900 879h1v4h-1zM901 845h1v23h-1zM902 894h1v3h-1zM903 908h1v4h-1zM905 675h1v257h-1zM906 927h1v1h-1zM907 801h1v67h-1zM908 823h1v39h-1zM909 796h1v38h-1zM910 779h1v49h-1zM914 853h1v91h-1zM916 932h1v4h-1zM917 915h1v6h-1zM918 899h1v5h-1zM919 882h1v6h-1zM920 865h1v6h-1zM921 849h1v5h-1zM922 832h1v6h-1zM923 815h1v6h-1zM924 802h1v3h-1zM925 793h1v3h-1zM926 783h1v3h-1zM927 773h1v4h-1zM928 764h1v3h-1zM929 754h1v3h-1zM930 745h1v3h-1zM931 735h1v3h-1zM932 725h1v4h-1zM933 716h1v3h-1zM934 706h1v3h-1zM935 690h1v7h-1zM936 666h1v8h-1z" fill="#4959a0"/>
<path d="M582 939h1v5h-1zM591 934h1v5h-1zM594 929h1v5h-1zM597 925h1v9h-1zM599 929h1v5h-1zM603 924h1v10h-1zM609 919h1v5h-1zM610 924h1v10h-1zM611 924h1v15h-1zM615 919h1v5h-1zM616 929h1v5h-1zM617 924h1v5h-1zM618 924h1v5h-1zM620 919h1v20h-1zM621 924h1v5h-1zM622 924h1v15h-1zM623 919h1v10h-1zM624 914h1v20h-1zM626 910h1v4h-1zM629 919h1v10h-1zM630 914h1v10h-1zM632 914h1v10h-1zM634 919h1v15h-1zM636 918h1v10h-1zM637 910h1v24h-1zM638 903h1v1h-1zM639 905h1v3h-1zM641 913h1v5h-1zM642 903h1v7h-1zM643 899h1v10h-1zM644 904h1v29h-1zM645 903h1v10h-1zM648 914h1v5h-1zM649 893h1v36h-1zM650 880h1v9h-1zM651 888h1v1h-1zM653 879h1v35h-1zM654 873h1v27h-1zM655 873h1v1h-1zM656 879h1v4h-1zM657 888h1v4h-1zM658 880h1v10h-1zM659 880h1v14h-1zM660 877h1v2h-1zM661 900h1v5h-1zM662 873h1v29h-1zM663 859h1v6h-1zM664 863h1v18h-1zM665 874h1v16h-1zM666 856h1v8h-1zM667 867h1v37h-1zM668 844h1v10h-1zM669 881h1v16h-1zM670 901h1v3h-1zM671 867h1v14h-1zM672 873h1v27h-1zM673 856h1v80h-1zM674 857h1v15h-1zM675 866h1v5h-1zM676 837h1v31h-1zM677 836h1v28h-1zM678 851h1v33h-1zM679 842h1v5h-1zM680 861h1v10h-1zM681 838h1v6h-1zM682 877h1v3h-1zM683 876h1v61h-1zM684 833h1v73h-1zM685 840h1v53h-1zM686 877h1v11h-1zM687 830h1v9h-1zM688 860h1v23h-1zM689 810h1v6h-1zM691 847h1v8h-1zM692 832h1v48h-1zM693 843h1v2h-1zM694 833h1v7h-1zM695 831h1v12h-1zM696 781h1v25h-1zM697 821h1v46h-1zM698 832h1v39h-1zM699 837h1v29h-1zM700 803h1v23h-1zM701 855h1v3h-1zM702 791h1v22h-1zM703 845h1v66h-1zM704 829h1v14h-1zM705 841h1v2h-1zM706 823h1v7h-1zM707 764h1v64h-1zM708 831h1v112h-1zM709 841h1v36h-1zM710 774h1v9h-1zM711 801h1v56h-1zM712 792h1v73h-1zM713 749h1v58h-1zM714 811h1v25h-1zM715 804h1v77h-1zM716 787h1v71h-1zM717 822h1v6h-1zM718 818h1v7h-1zM719 776h1v109h-1zM720 811h1v109h-1zM721 775h1v9h-1zM722 846h1v27h-1zM723 793h1v4h-1zM724 800h1v26h-1zM725 770h1v22h-1zM726 755h1v4h-1zM727 828h1v91h-1zM728 763h1v33h-1zM729 787h1v40h-1zM730 843h1v25h-1zM731 775h1v46h-1zM732 821h1v89h-1zM733 828h1v43h-1zM735 771h1v39h-1zM736 836h1v93h-1zM737 804h1v1h-1zM738 771h1v3h-1zM739 811h1v30h-1zM740 798h1v2h-1zM741 789h1v63h-1zM742 740h1v129h-1zM743 773h1v96h-1zM744 751h1v13h-1zM745 752h1v77h-1zM746 835h1v16h-1zM747 742h1v54h-1zM748 767h1v26h-1zM749 749h1v77h-1zM750 777h1v103h-1zM751 776h1v4h-1zM752 765h1v39h-1zM753 760h1v99h-1zM754 762h1v19h-1zM755 734h1v17h-1zM756 778h1v10h-1zM757 740h1v26h-1zM758 768h1v33h-1zM759 772h1v49h-1zM760 760h1v1h-1zM761 736h1v110h-1zM762 824h1v18h-1zM763 698h1v138h-1zM764 802h1v34h-1zM765 716h1v46h-1zM766 750h1v65h-1zM767 758h1v37h-1zM768 763h1v46h-1zM769 750h1v1h-1zM770 716h1v183h-1zM771 736h1v172h-1zM772 761h1v28h-1zM773 772h1v42h-1zM775 832h1v5h-1zM776 690h1v122h-1zM778 716h1v25h-1zM779 699h1v50h-1zM780 713h1v19h-1zM781 713h1v72h-1zM782 676h1v84h-1zM783 709h1v80h-1zM784 718h1v80h-1zM785 722h1v64h-1zM786 828h1v79h-1zM787 682h1v43h-1zM788 705h1v30h-1zM789 688h1v88h-1zM790 797h1v9h-1zM791 739h1v37h-1zM792 745h1v26h-1zM793 754h1v46h-1zM794 694h1v91h-1zM795 713h1v104h-1zM796 764h1v7h-1zM797 728h1v60h-1zM798 672h1v22h-1zM799 710h1v103h-1zM800 725h1v14h-1zM801 724h1v8h-1zM802 699h1v132h-1zM803 717h1v38h-1zM804 748h1v7h-1zM805 694h1v95h-1zM806 667h1v2h-1zM807 742h1v73h-1zM808 661h1v66h-1zM809 864h1v48h-1zM810 674h1v94h-1zM812 689h1v143h-1zM813 670h1v67h-1zM815 779h1v44h-1zM816 706h1v40h-1zM817 749h1v37h-1zM818 698h1v107h-1zM819 720h1v45h-1zM820 720h1v15h-1zM822 703h1v86h-1zM823 700h1v203h-1zM824 728h1v19h-1zM825 723h1v54h-1zM827 679h1v10h-1zM828 754h1v68h-1zM829 838h1v16h-1zM830 747h1v147h-1zM831 684h1v15h-1zM832 657h1v27h-1zM834 655h1v38h-1zM835 704h1v141h-1zM836 679h1v100h-1zM837 695h1v154h-1zM838 653h1v8h-1zM839 726h1v75h-1zM840 662h1v1h-1zM841 693h1v62h-1zM842 800h1v44h-1zM843 626h1v26h-1zM844 736h1v106h-1zM845 756h1v78h-1zM846 758h1v34h-1zM847 740h1v21h-1zM848 713h1v84h-1zM849 669h1v10h-1zM850 819h1v42h-1zM851 739h1v86h-1zM852 666h1v78h-1zM853 751h1v4h-1zM854 715h1v41h-1zM855 693h1v131h-1zM856 652h1v36h-1zM857 727h1v93h-1zM858 689h1v55h-1zM859 696h1v201h-1zM860 784h1v78h-1zM863 768h1v79h-1zM864 656h1v23h-1zM865 725h1v111h-1zM866 633h1v3h-1zM867 671h1v30h-1zM868 656h1v46h-1zM870 686h1v24h-1zM871 649h1v215h-1zM872 661h1v12h-1zM873 660h1v52h-1zM874 627h1v60h-1zM875 624h1v65h-1zM876 659h1v19h-1zM877 661h1v24h-1zM878 680h1v5h-1zM879 705h1v6h-1zM880 636h1v80h-1zM881 700h1v6h-1zM882 634h1v69h-1zM883 702h1v11h-1zM884 721h1v1h-1zM885 657h1v62h-1zM886 650h1v20h-1zM887 694h1v28h-1zM888 689h1v7h-1zM889 705h1v7h-1zM890 657h1v66h-1zM891 695h1v11h-1zM892 672h1v7h-1zM893 694h1v8h-1zM894 664h1v44h-1zM895 672h1v13h-1zM896 627h1v8h-1zM898 705h1v1h-1zM899 665h1v58h-1zM900 661h1v5h-1zM902 698h1v29h-1zM904 650h1v3h-1zM905 645h1v8h-1zM906 687h1v2h-1zM907 680h1v21h-1zM908 695h1v24h-1zM909 641h1v34h-1zM910 703h1v5h-1zM911 620h1v6h-1zM914 604h1v19h-1zM915 847h1v51h-1zM916 695h1v32h-1zM917 626h1v57h-1zM918 643h1v54h-1zM919 635h1v39h-1zM920 628h1v44h-1zM921 637h1v62h-1zM922 626h1v25h-1zM923 661h1v59h-1zM924 671h1v50h-1zM925 718h1v8h-1zM926 682h1v11h-1zM927 675h1v34h-1zM928 661h1v24h-1zM929 659h1v19h-1zM930 659h1v46h-1zM931 636h1v77h-1zM932 720h1v2h-1zM933 683h1v19h-1zM934 660h1v6h-1zM936 648h1v5h-1z" fill="#4c96d2"/>
<path d="M584 935h1v4h-1zM589 934h1v1h-1z" fill="#7fa8d6"/>
<path d="M584 939h1v5h-1zM589 935h1v9h-1zM594 934h1v5h-1zM599 939h1v5h-1zM602 929h1v10h-1zM608 924h1v15h-1zM609 924h1v10h-1zM610 934h1v5h-1zM611 939h1v5h-1zM613 939h1v5h-1zM614 929h1v15h-1zM615 939h1v5h-1zM617 934h1v5h-1zM618 934h1v5h-1zM619 929h1v10h-1zM621 929h1v15h-1zM623 934h1v10h-1zM626 924h1v10h-1zM629 929h1v15h-1zM630 929h1v5h-1zM631 934h1v5h-1zM632 934h1v5h-1zM635 914h1v25h-1zM636 934h1v5h-1zM638 914h1v15h-1zM639 929h1v5h-1zM640 929h1v10h-1zM641 918h1v5h-1zM642 924h1v4h-1zM643 924h1v5h-1zM644 933h1v6h-1zM645 919h1v10h-1zM646 900h1v34h-1zM647 905h1v24h-1zM648 924h1v10h-1zM649 934h1v10h-1zM650 909h1v10h-1zM651 934h1v5h-1zM652 929h1v5h-1zM653 929h1v15h-1zM654 905h1v29h-1zM655 928h1v16h-1zM656 924h1v8h-1zM657 901h1v20h-1zM658 921h1v21h-1zM659 922h1v5h-1zM660 902h1v14h-1zM661 930h1v14h-1zM662 937h1v7h-1zM663 930h1v4h-1zM664 891h1v47h-1zM665 924h1v20h-1zM666 918h1v13h-1zM667 929h1v13h-1zM668 865h1v41h-1zM669 934h1v10h-1zM670 934h1v10h-1zM671 911h1v24h-1zM672 938h1v6h-1zM673 937h1v7h-1zM674 889h1v55h-1zM675 907h1v37h-1zM676 926h1v9h-1zM678 925h1v1h-1zM679 920h1v19h-1zM680 879h1v50h-1zM681 926h1v15h-1zM682 904h1v23h-1zM683 937h1v7h-1zM684 931h1v7h-1zM685 914h1v30h-1zM686 916h1v21h-1zM687 903h1v28h-1zM688 916h1v12h-1zM689 892h1v30h-1zM690 865h1v79h-1zM691 909h1v30h-1zM692 928h1v6h-1zM693 923h1v6h-1zM694 915h1v6h-1zM695 924h1v20h-1zM696 893h1v32h-1zM697 895h1v42h-1zM698 932h1v4h-1zM699 927h1v9h-1zM700 863h1v44h-1zM701 930h1v7h-1zM702 915h1v10h-1zM703 926h1v18h-1zM704 918h1v13h-1zM705 882h1v35h-1zM706 884h1v22h-1zM707 861h1v41h-1zM708 943h1v1h-1zM709 885h1v21h-1zM710 918h1v21h-1zM711 890h1v31h-1zM712 890h1v46h-1zM713 914h1v19h-1zM714 906h1v28h-1zM715 926h1v8h-1zM716 882h1v50h-1zM717 835h1v82h-1zM718 884h1v39h-1zM721 919h1v25h-1zM722 881h1v41h-1zM723 836h1v91h-1zM724 907h1v19h-1zM725 907h1v23h-1zM726 927h1v6h-1zM727 936h1v2h-1zM728 835h1v71h-1zM729 837h1v43h-1zM730 932h1v12h-1zM731 878h1v5h-1zM734 887h1v7h-1zM735 868h1v45h-1zM736 929h1v6h-1zM737 913h1v31h-1zM738 801h1v27h-1zM739 909h1v19h-1zM740 904h1v14h-1zM741 896h1v9h-1zM742 869h1v28h-1zM743 899h1v9h-1zM744 897h1v47h-1zM745 896h1v19h-1zM746 851h1v13h-1zM747 836h1v59h-1zM748 913h1v7h-1zM749 910h1v34h-1zM750 935h1v9h-1zM751 875h1v38h-1zM752 885h1v39h-1zM753 859h1v14h-1zM754 863h1v34h-1zM755 908h1v7h-1zM756 916h1v6h-1zM757 856h1v14h-1zM758 929h1v15h-1zM759 899h1v14h-1zM760 874h1v32h-1zM761 868h1v20h-1zM762 897h1v15h-1zM763 907h1v9h-1zM764 893h1v24h-1zM765 847h1v41h-1zM766 867h1v30h-1zM767 921h1v5h-1zM768 850h1v15h-1zM769 834h1v58h-1zM771 925h1v6h-1zM772 830h1v94h-1zM773 880h1v64h-1zM774 852h1v60h-1zM775 884h1v10h-1zM776 913h1v15h-1zM777 733h1v202h-1zM778 865h1v10h-1zM779 866h1v25h-1zM780 865h1v44h-1zM781 843h1v101h-1zM782 910h1v13h-1zM783 913h1v8h-1zM785 929h1v15h-1zM787 728h1v130h-1zM788 735h1v209h-1zM789 810h1v73h-1zM790 866h1v9h-1zM791 815h1v94h-1zM792 888h1v23h-1zM793 874h1v6h-1zM794 871h1v46h-1zM795 863h1v19h-1zM796 794h1v145h-1zM797 827h1v41h-1zM798 846h1v61h-1zM799 860h1v36h-1zM800 827h1v81h-1zM801 732h1v186h-1zM802 843h1v83h-1zM803 830h1v76h-1zM804 802h1v87h-1zM805 850h1v10h-1zM806 894h1v50h-1zM807 846h1v37h-1zM808 802h1v9h-1zM809 912h1v10h-1zM810 770h1v150h-1zM812 854h1v34h-1zM813 768h1v69h-1zM814 919h1v7h-1zM816 808h1v75h-1zM818 878h1v25h-1zM819 798h1v103h-1zM820 768h1v147h-1zM822 877h1v16h-1zM824 808h1v91h-1zM825 870h1v57h-1zM827 726h1v130h-1zM828 822h1v55h-1zM829 877h1v16h-1zM830 925h1v19h-1zM831 852h1v20h-1zM832 870h1v49h-1zM833 784h1v160h-1zM834 750h1v155h-1zM835 922h1v9h-1zM836 779h1v157h-1zM838 873h1v38h-1zM839 858h1v86h-1zM840 828h1v71h-1zM841 863h1v22h-1zM842 895h1v5h-1zM843 797h1v91h-1zM844 847h1v86h-1zM845 892h1v31h-1zM846 889h1v26h-1zM847 796h1v111h-1zM848 797h1v78h-1zM849 849h1v69h-1zM852 900h1v44h-1zM853 832h1v20h-1zM854 804h1v111h-1zM855 843h1v44h-1zM856 848h1v73h-1zM857 890h1v1h-1zM858 817h1v16h-1zM859 897h1v18h-1zM860 868h1v34h-1zM862 746h1v110h-1zM863 852h1v31h-1zM864 919h1v25h-1zM865 863h1v22h-1zM866 736h1v35h-1zM867 822h1v72h-1zM868 789h1v93h-1zM870 892h1v4h-1zM871 910h1v34h-1zM872 936h1v3h-1zM873 927h1v3h-1zM874 918h1v3h-1zM875 909h1v3h-1zM876 900h1v3h-1zM877 891h1v3h-1zM878 881h1v3h-1zM879 872h1v3h-1zM880 863h1v3h-1zM881 854h1v3h-1zM882 845h1v3h-1zM883 836h1v3h-1zM884 827h1v3h-1zM885 818h1v3h-1zM886 809h1v3h-1zM887 799h1v4h-1zM888 790h1v3h-1zM889 781h1v3h-1zM890 767h1v5h-1zM891 752h1v5h-1zM892 738h1v5h-1zM893 723h1v5h-1zM895 685h1v13h-1zM896 646h1v13h-1zM898 858h1v72h-1zM900 862h1v17h-1zM901 843h1v2h-1zM902 886h1v8h-1zM903 704h1v204h-1zM906 827h1v100h-1zM907 778h1v23h-1zM908 811h1v12h-1zM909 791h1v5h-1zM910 739h1v40h-1zM911 696h1v43h-1zM912 623h1v3h-1zM915 930h1v14h-1zM916 926h1v6h-1zM917 910h1v5h-1zM918 893h1v6h-1zM919 876h1v6h-1zM920 860h1v5h-1zM921 843h1v6h-1zM922 827h1v5h-1zM923 810h1v5h-1zM924 799h1v3h-1zM925 789h1v4h-1zM926 780h1v3h-1zM927 770h1v3h-1zM928 761h1v3h-1zM929 751h1v3h-1zM930 741h1v4h-1zM931 732h1v3h-1zM932 722h1v3h-1zM933 712h1v4h-1zM934 703h1v3h-1zM936 658h1v8h-1z" fill="#446bb0"/>
<path d="M585 935h1v4h-1zM593 929h1v15h-1zM605 924h1v15h-1zM606 929h1v5h-1zM622 939h1v5h-1zM625 934h1v5h-1zM627 924h1v20h-1zM633 934h1v5h-1zM719 887h1v22h-1zM732 925h1v15h-1zM786 908h1v31h-1zM811 826h1v36h-1zM815 855h1v44h-1zM817 922h1v2h-1zM826 769h1v87h-1zM851 893h1v21h-1zM861 858h1v38h-1zM897 633h1v7h-1zM905 653h1v22h-1zM914 623h1v230h-1zM937 643h1v8h-1zM938 619h1v8h-1zM939 608h1v4h-1z" fill="#5673b0"/>
<path d="M587 935h1v4h-1zM590 930h1v4h-1zM591 930h1v4h-1zM594 925h1v4h-1zM599 924h1v5h-1zM600 929h1v5h-1zM601 929h1v5h-1zM602 920h1v9h-1zM604 920h1v9h-1zM606 920h1v4h-1zM608 915h1v4h-1zM613 919h1v5h-1zM616 919h1v10h-1zM617 919h1v5h-1zM618 919h1v5h-1zM619 915h1v9h-1zM620 910h1v9h-1zM628 900h1v19h-1zM629 900h1v19h-1zM630 905h1v9h-1zM632 909h1v5h-1zM633 914h1v5h-1zM634 900h1v19h-1zM635 900h1v9h-1zM636 910h1v8h-1zM637 909h1v1h-1zM638 899h1v4h-1zM640 909h1v5h-1zM641 884h1v29h-1zM642 891h1v12h-1zM643 890h1v9h-1zM644 893h1v11h-1zM645 896h1v7h-1zM646 879h1v10h-1zM648 894h1v20h-1zM649 883h1v10h-1zM650 866h1v14h-1zM651 883h1v5h-1zM652 899h1v1h-1zM653 869h1v10h-1zM654 863h1v10h-1zM655 870h1v3h-1zM656 867h1v12h-1zM658 847h1v33h-1zM659 873h1v7h-1zM660 875h1v2h-1zM661 898h1v2h-1zM662 850h1v23h-1zM663 837h1v22h-1zM664 854h1v9h-1zM665 862h1v12h-1zM666 835h1v21h-1zM667 859h1v8h-1zM668 835h1v9h-1zM669 862h1v19h-1zM670 873h1v28h-1zM671 830h1v37h-1zM672 820h1v53h-1zM673 841h1v15h-1zM674 846h1v11h-1zM675 819h1v47h-1zM676 818h1v19h-1zM677 832h1v4h-1zM678 836h1v15h-1zM679 834h1v8h-1zM680 846h1v15h-1zM681 822h1v16h-1zM682 858h1v19h-1zM683 796h1v80h-1zM684 832h1v1h-1zM685 810h1v30h-1zM686 826h1v51h-1zM687 813h1v17h-1zM688 823h1v37h-1zM689 794h1v16h-1zM691 822h1v25h-1zM692 827h1v5h-1zM693 802h1v41h-1zM694 803h1v30h-1zM695 780h1v51h-1zM696 777h1v4h-1zM697 814h1v7h-1zM698 787h1v45h-1zM699 777h1v60h-1zM700 790h1v13h-1zM701 799h1v56h-1zM702 787h1v4h-1zM703 772h1v73h-1zM704 793h1v36h-1zM705 793h1v48h-1zM706 762h1v61h-1zM707 758h1v6h-1zM708 801h1v30h-1zM709 754h1v87h-1zM710 758h1v16h-1zM711 776h1v25h-1zM712 756h1v36h-1zM713 741h1v8h-1zM714 776h1v35h-1zM715 768h1v36h-1zM716 765h1v22h-1zM717 815h1v7h-1zM718 813h1v5h-1zM719 746h1v30h-1zM720 746h1v65h-1zM721 739h1v36h-1zM722 837h1v9h-1zM723 792h1v1h-1zM724 751h1v49h-1zM725 765h1v5h-1zM726 734h1v21h-1zM727 753h1v75h-1zM728 738h1v25h-1zM729 730h1v57h-1zM730 775h1v68h-1zM731 734h1v41h-1zM732 816h1v5h-1zM733 768h1v60h-1zM734 722h1v163h-1zM735 766h1v5h-1zM736 795h1v41h-1zM737 799h1v5h-1zM738 717h1v54h-1zM739 796h1v15h-1zM740 766h1v32h-1zM741 755h1v34h-1zM742 723h1v17h-1zM743 769h1v4h-1zM744 724h1v27h-1zM745 738h1v14h-1zM746 727h1v108h-1zM747 728h1v14h-1zM748 739h1v28h-1zM749 692h1v57h-1zM750 761h1v16h-1zM751 765h1v11h-1zM752 713h1v52h-1zM753 725h1v35h-1zM754 709h1v53h-1zM755 705h1v29h-1zM756 720h1v58h-1zM757 709h1v31h-1zM758 721h1v47h-1zM759 721h1v51h-1zM760 701h1v59h-1zM761 732h1v4h-1zM762 716h1v108h-1zM763 691h1v7h-1zM764 703h1v99h-1zM765 687h1v29h-1zM766 693h1v57h-1zM767 697h1v61h-1zM768 709h1v54h-1zM769 707h1v43h-1zM770 710h1v6h-1zM771 672h1v64h-1zM772 748h1v13h-1zM773 745h1v27h-1zM774 688h1v108h-1zM775 817h1v15h-1zM776 685h1v5h-1zM778 693h1v23h-1zM779 681h1v18h-1zM780 704h1v9h-1zM781 687h1v26h-1zM782 671h1v5h-1zM783 693h1v16h-1zM784 687h1v31h-1zM785 693h1v29h-1zM786 682h1v146h-1zM787 671h1v11h-1zM788 677h1v28h-1zM789 681h1v7h-1zM790 682h1v115h-1zM791 732h1v7h-1zM792 684h1v61h-1zM793 685h1v69h-1zM794 686h1v8h-1zM795 696h1v17h-1zM796 725h1v39h-1zM797 696h1v32h-1zM798 668h1v4h-1zM799 679h1v31h-1zM800 701h1v24h-1zM801 704h1v20h-1zM802 698h1v1h-1zM803 659h1v58h-1zM804 685h1v63h-1zM805 668h1v26h-1zM806 663h1v4h-1zM807 674h1v68h-1zM808 649h1v12h-1zM809 738h1v126h-1zM810 672h1v2h-1zM812 659h1v30h-1zM813 663h1v7h-1zM814 774h1v88h-1zM815 673h1v106h-1zM816 665h1v41h-1zM817 671h1v78h-1zM818 652h1v46h-1zM819 702h1v18h-1zM820 686h1v34h-1zM821 737h1v14h-1zM822 676h1v27h-1zM823 662h1v38h-1zM824 682h1v46h-1zM825 712h1v11h-1zM826 698h1v10h-1zM827 662h1v17h-1zM828 652h1v102h-1zM829 719h1v119h-1zM830 632h1v115h-1zM831 654h1v30h-1zM832 652h1v5h-1zM833 712h1v12h-1zM835 692h1v12h-1zM836 633h1v46h-1zM837 680h1v15h-1zM838 648h1v5h-1zM839 684h1v42h-1zM840 648h1v14h-1zM841 664h1v29h-1zM842 715h1v85h-1zM843 615h1v11h-1zM844 665h1v71h-1zM845 705h1v51h-1zM846 702h1v56h-1zM847 691h1v49h-1zM848 658h1v55h-1zM850 724h1v95h-1zM851 680h1v59h-1zM852 657h1v9h-1zM853 740h1v11h-1zM854 645h1v70h-1zM855 649h1v44h-1zM856 636h1v16h-1zM857 701h1v26h-1zM858 651h1v38h-1zM859 648h1v48h-1zM860 656h1v128h-1zM863 652h1v116h-1zM864 651h1v5h-1zM865 649h1v76h-1zM866 625h1v8h-1zM867 644h1v27h-1zM868 608h1v48h-1zM870 664h1v22h-1zM871 636h1v13h-1zM872 630h1v31h-1zM873 633h1v27h-1zM874 620h1v7h-1zM875 621h1v3h-1zM876 654h1v5h-1zM877 635h1v26h-1zM878 624h1v56h-1zM879 701h1v4h-1zM880 626h1v10h-1zM881 624h1v76h-1zM882 624h1v10h-1zM883 631h1v71h-1zM884 630h1v91h-1zM885 625h1v32h-1zM886 649h1v1h-1zM887 621h1v73h-1zM888 682h1v7h-1zM889 622h1v83h-1zM890 632h1v25h-1zM891 640h1v55h-1zM892 623h1v49h-1zM893 680h1v14h-1zM894 632h1v32h-1zM895 629h1v43h-1zM896 623h1v4h-1zM898 672h1v33h-1zM899 655h1v10h-1zM900 646h1v15h-1zM901 671h1v20h-1zM902 659h1v39h-1zM903 638h1v15h-1zM904 627h1v23h-1zM905 633h1v12h-1zM906 660h1v27h-1zM907 636h1v44h-1zM908 630h1v65h-1zM909 619h1v22h-1zM910 626h1v77h-1zM911 604h1v16h-1zM915 641h1v206h-1zM916 634h1v61h-1zM917 623h1v3h-1zM918 624h1v19h-1zM919 620h1v15h-1zM920 627h1v1h-1zM921 635h1v2h-1zM922 622h1v4h-1zM923 657h1v4h-1zM924 630h1v41h-1zM925 644h1v74h-1zM926 620h1v62h-1zM927 634h1v41h-1zM928 632h1v29h-1zM929 647h1v12h-1zM930 626h1v33h-1zM931 628h1v8h-1zM932 717h1v3h-1zM933 632h1v51h-1zM934 631h1v29h-1zM935 654h1v28h-1zM936 634h1v14h-1z" fill="#59b0e2"/>
<path d="M589 930h1v4h-1zM598 920h1v4h-1zM602 915h1v5h-1zM626 895h1v5h-1zM636 882h1v1h-1zM637 880h1v1h-1zM638 878h1v1h-1zM640 875h1v1h-1zM641 873h1v1h-1zM644 868h1v1h-1zM646 865h1v1h-1zM647 862h1v1h-1zM648 860h1v1h-1zM649 857h1v1h-1zM650 855h1v1h-1zM651 853h1v1h-1zM652 851h1v1h-1zM653 849h1v1h-1zM654 847h1v1h-1zM655 844h1v2h-1zM656 840h1v2h-1zM657 837h1v1h-1zM658 834h1v1h-1zM659 832h1v1h-1zM660 829h1v1h-1zM661 827h1v1h-1zM662 825h1v1h-1zM663 823h1v1h-1zM664 821h1v1h-1zM666 816h1v1h-1zM667 813h1v1h-1zM668 811h1v1h-1zM669 808h1v1h-1zM671 803h1v1h-1zM672 801h1v1h-1zM674 796h1v1h-1zM675 794h1v1h-1zM676 792h1v1h-1zM677 790h1v1h-1zM681 783h1v1h-1zM682 781h1v1h-1zM683 779h1v1h-1zM686 774h1v1h-1zM689 769h1v1h-1zM692 764h1v1h-1zM694 761h1v1h-1zM695 759h1v1h-1zM696 757h1v1h-1zM699 752h1v1h-1zM700 750h1v1h-1zM701 748h1v1h-1zM702 746h1v1h-1zM703 744h1v1h-1zM704 742h1v1h-1zM705 740h1v1h-1zM706 738h1v1h-1zM707 736h1v1h-1zM710 731h1v1h-1zM711 729h1v1h-1zM712 727h1v1h-1zM713 725h1v1h-1zM716 720h1v1h-1zM717 718h1v1h-1zM719 715h1v1h-1zM720 714h1v1h-1zM722 711h1v1h-1zM725 707h1v1h-1zM738 693h1v1h-1zM740 690h1v1h-1zM742 687h1v1h-1zM744 684h1v1h-1zM746 681h1v1h-1zM748 678h1v1h-1zM757 670h1v1h-1zM758 669h1v1h-1zM759 668h1v1h-1zM778 649h1v5h-1zM810 629h1v5h-1zM841 614h1v5h-1z" fill="#99dcf7"/>
<path d="M593 925h1v4h-1zM595 925h1v4h-1zM596 925h1v4h-1zM599 920h1v4h-1zM600 920h1v9h-1zM601 920h1v9h-1zM603 915h1v9h-1zM604 915h1v5h-1zM605 915h1v9h-1zM606 915h1v5h-1zM607 910h1v9h-1zM608 910h1v5h-1zM609 910h1v9h-1zM610 910h1v14h-1zM611 910h1v14h-1zM612 910h1v24h-1zM613 905h1v14h-1zM614 905h1v14h-1zM615 905h1v14h-1zM616 905h1v14h-1zM617 905h1v14h-1zM618 905h1v14h-1zM619 905h1v10h-1zM620 900h1v10h-1zM621 900h1v24h-1zM622 900h1v24h-1zM623 900h1v19h-1zM624 900h1v14h-1zM625 900h1v24h-1zM626 900h1v10h-1zM627 895h1v29h-1zM628 895h1v5h-1zM629 895h1v5h-1zM630 895h1v10h-1zM631 890h1v24h-1zM632 890h1v19h-1zM633 890h1v24h-1zM634 890h1v10h-1zM635 885h1v15h-1zM636 883h1v27h-1zM637 881h1v28h-1zM638 879h1v20h-1zM639 877h1v28h-1zM640 876h1v33h-1zM641 874h1v10h-1zM642 872h1v19h-1zM643 870h1v20h-1zM644 869h1v24h-1zM645 867h1v29h-1zM646 866h1v13h-1zM647 863h1v35h-1zM648 861h1v33h-1zM649 858h1v25h-1zM650 856h1v10h-1zM651 854h1v29h-1zM652 852h1v47h-1zM653 850h1v19h-1zM654 848h1v15h-1zM655 846h1v24h-1zM656 842h1v25h-1zM657 838h1v50h-1zM658 835h1v12h-1zM659 833h1v40h-1zM660 830h1v45h-1zM661 828h1v70h-1zM662 826h1v24h-1zM663 824h1v13h-1zM664 822h1v32h-1zM665 819h1v43h-1zM666 817h1v18h-1zM667 814h1v45h-1zM668 812h1v23h-1zM669 809h1v53h-1zM670 806h1v67h-1zM671 804h1v26h-1zM672 802h1v18h-1zM673 799h1v42h-1zM674 797h1v49h-1zM675 795h1v24h-1zM676 793h1v25h-1zM677 791h1v41h-1zM678 789h1v47h-1zM679 787h1v47h-1zM680 785h1v61h-1zM681 784h1v38h-1zM682 782h1v76h-1zM683 780h1v16h-1zM684 778h1v54h-1zM685 776h1v34h-1zM686 775h1v51h-1zM687 773h1v40h-1zM688 771h1v52h-1zM689 770h1v24h-1zM690 768h1v67h-1zM691 766h1v56h-1zM692 765h1v62h-1zM693 763h1v39h-1zM694 762h1v41h-1zM695 760h1v20h-1zM696 758h1v19h-1zM697 756h1v58h-1zM698 754h1v33h-1zM699 753h1v24h-1zM700 751h1v39h-1zM701 749h1v50h-1zM702 747h1v40h-1zM703 745h1v27h-1zM704 743h1v50h-1zM705 741h1v52h-1zM706 739h1v23h-1zM707 737h1v21h-1zM708 735h1v66h-1zM709 733h1v21h-1zM710 732h1v26h-1zM711 730h1v46h-1zM712 728h1v28h-1zM713 726h1v15h-1zM714 724h1v52h-1zM715 722h1v46h-1zM716 721h1v44h-1zM717 719h1v96h-1zM718 717h1v96h-1zM719 716h1v30h-1zM720 715h1v31h-1zM721 713h1v26h-1zM722 712h1v125h-1zM723 710h1v82h-1zM724 709h1v42h-1zM725 708h1v57h-1zM726 706h1v28h-1zM727 705h1v48h-1zM728 704h1v34h-1zM729 703h1v27h-1zM730 702h1v73h-1zM731 701h1v33h-1zM732 700h1v116h-1zM733 699h1v69h-1zM734 698h1v24h-1zM735 697h1v69h-1zM736 696h1v99h-1zM737 695h1v104h-1zM738 694h1v23h-1zM739 692h1v104h-1zM740 691h1v75h-1zM741 689h1v66h-1zM742 688h1v35h-1zM743 686h1v83h-1zM744 685h1v39h-1zM745 683h1v55h-1zM746 682h1v45h-1zM747 680h1v48h-1zM748 679h1v60h-1zM749 678h1v14h-1zM750 677h1v84h-1zM751 676h1v89h-1zM752 675h1v38h-1zM753 674h1v51h-1zM754 673h1v36h-1zM755 672h1v33h-1zM756 671h1v49h-1zM757 671h1v38h-1zM758 670h1v51h-1zM759 669h1v52h-1zM760 668h1v33h-1zM761 667h1v65h-1zM762 664h1v52h-1zM763 664h1v27h-1zM764 664h1v39h-1zM765 664h1v23h-1zM766 659h1v34h-1zM767 659h1v38h-1zM768 659h1v50h-1zM769 659h1v48h-1zM770 659h1v51h-1zM771 659h1v13h-1zM772 659h1v89h-1zM773 654h1v91h-1zM774 654h1v34h-1zM775 654h1v163h-1zM776 654h1v31h-1zM777 654h1v38h-1zM778 654h1v39h-1zM779 649h1v32h-1zM780 649h1v55h-1zM781 649h1v38h-1zM782 649h1v22h-1zM783 649h1v44h-1zM784 649h1v38h-1zM785 644h1v49h-1zM786 644h1v38h-1zM787 644h1v27h-1zM788 644h1v33h-1zM789 644h1v37h-1zM790 644h1v38h-1zM791 644h1v88h-1zM792 639h1v45h-1zM793 639h1v46h-1zM794 639h1v47h-1zM795 639h1v57h-1zM796 639h1v86h-1zM797 639h1v57h-1zM798 639h1v29h-1zM799 639h1v40h-1zM800 639h1v62h-1zM801 634h1v70h-1zM802 634h1v64h-1zM803 634h1v25h-1zM804 634h1v51h-1zM805 634h1v34h-1zM806 634h1v29h-1zM807 634h1v40h-1zM808 634h1v15h-1zM809 634h1v104h-1zM810 634h1v38h-1zM811 629h1v123h-1zM812 629h1v30h-1zM813 629h1v34h-1zM814 629h1v145h-1zM815 629h1v44h-1zM816 629h1v36h-1zM817 629h1v42h-1zM818 629h1v23h-1zM819 629h1v73h-1zM820 624h1v62h-1zM821 624h1v113h-1zM822 624h1v52h-1zM823 624h1v38h-1zM824 624h1v58h-1zM825 624h1v88h-1zM826 624h1v74h-1zM827 624h1v38h-1zM828 624h1v28h-1zM829 624h1v95h-1zM830 619h1v13h-1zM831 619h1v35h-1zM832 619h1v33h-1zM833 619h1v93h-1zM834 619h1v36h-1zM835 619h1v73h-1zM836 619h1v14h-1zM837 619h1v61h-1zM838 619h1v29h-1zM839 619h1v65h-1zM840 619h1v29h-1zM841 619h1v45h-1zM842 614h1v101h-1zM843 614h1v1h-1zM844 614h1v51h-1zM845 614h1v91h-1zM846 614h1v88h-1zM847 614h1v77h-1zM848 614h1v44h-1zM849 614h1v55h-1zM850 614h1v110h-1zM851 614h1v66h-1zM852 614h1v43h-1zM853 608h1v132h-1zM854 608h1v37h-1zM855 608h1v41h-1zM856 608h1v28h-1zM857 608h1v93h-1zM858 608h1v43h-1zM859 608h1v40h-1zM860 608h1v48h-1zM861 608h1v43h-1zM862 608h1v98h-1zM863 608h1v44h-1zM864 608h1v43h-1zM865 608h1v41h-1zM866 608h1v17h-1zM867 608h1v36h-1zM869 608h1v129h-1zM870 608h1v56h-1zM871 604h1v32h-1zM872 604h1v26h-1zM873 604h1v29h-1zM874 604h1v16h-1zM875 604h1v17h-1zM876 604h1v50h-1zM877 604h1v31h-1zM878 604h1v20h-1zM879 604h1v97h-1zM880 604h1v22h-1zM881 604h1v20h-1zM882 604h1v20h-1zM883 604h1v27h-1zM884 604h1v26h-1zM885 604h1v21h-1zM886 604h1v45h-1zM887 604h1v17h-1zM888 604h1v78h-1zM889 604h1v18h-1zM890 604h1v28h-1zM891 604h1v36h-1zM892 604h1v19h-1zM893 604h1v76h-1zM894 604h1v28h-1zM895 604h1v25h-1zM896 604h1v19h-1zM897 604h1v16h-1zM898 604h1v68h-1zM899 604h1v51h-1zM900 604h1v42h-1zM901 604h1v67h-1zM902 604h1v55h-1zM903 604h1v34h-1zM904 604h1v23h-1zM905 604h1v29h-1zM906 604h1v56h-1zM907 604h1v32h-1zM908 604h1v26h-1zM909 604h1v15h-1zM910 604h1v22h-1zM915 604h1v37h-1zM916 604h1v30h-1zM917 604h1v19h-1zM918 604h1v20h-1zM919 604h1v16h-1zM920 604h1v23h-1zM921 604h1v31h-1zM922 604h1v18h-1zM923 604h1v53h-1zM924 604h1v26h-1zM925 604h1v40h-1zM926 604h1v16h-1zM927 604h1v30h-1zM928 604h1v28h-1zM929 604h1v43h-1zM930 604h1v22h-1zM931 604h1v24h-1zM932 604h1v113h-1zM933 604h1v28h-1zM934 604h1v27h-1zM935 604h1v50h-1zM936 604h1v30h-1zM937 604h1v31h-1zM938 604h1v12h-1z" fill="#66caf3"/>
<path d="M598 924h1v1h-1z" fill="#91b0d6"/>
<path d="M607 919h1v5h-1zM614 919h1v5h-1zM633 919h1v5h-1zM646 889h1v1h-1zM690 835h1v6h-1zM811 752h1v74h-1zM862 706h1v26h-1zM869 737h1v22h-1zM897 620h1v13h-1zM935 682h1v3h-1zM937 635h1v8h-1zM938 616h1v3h-1zM939 604h1v4h-1z" fill="#5e9fd2"/>
<path d="M636 881h1v1h-1zM639 876h1v1h-1zM640 874h1v1h-1zM642 871h1v1h-1zM643 869h1v1h-1zM645 866h1v1h-1zM646 864h1v1h-1zM647 861h1v1h-1zM648 859h1v1h-1zM650 854h1v1h-1zM651 852h1v1h-1zM652 850h1v1h-1zM655 843h1v1h-1zM656 839h1v1h-1zM657 836h1v1h-1zM658 833h1v1h-1zM659 831h1v1h-1zM664 820h1v1h-1zM665 818h1v1h-1zM666 815h1v1h-1zM667 812h1v1h-1zM668 810h1v1h-1zM669 807h1v1h-1zM670 805h1v1h-1zM671 802h1v1h-1zM672 800h1v1h-1zM673 798h1v1h-1zM674 795h1v1h-1zM678 788h1v1h-1zM679 786h1v1h-1zM680 784h1v1h-1zM681 782h1v1h-1zM684 777h1v1h-1zM685 775h1v1h-1zM687 772h1v1h-1zM688 770h1v1h-1zM690 767h1v1h-1zM691 765h1v1h-1zM693 762h1v1h-1zM694 760h1v1h-1zM697 755h1v1h-1zM698 753h1v1h-1zM708 734h1v1h-1zM709 732h1v1h-1zM710 730h1v1h-1zM711 728h1v1h-1zM714 723h1v1h-1zM715 721h1v1h-1zM716 719h1v1h-1zM718 716h1v1h-1zM721 712h1v1h-1zM724 708h1v1h-1zM727 704h1v1h-1zM728 703h1v1h-1zM729 702h1v1h-1zM730 701h1v1h-1zM731 700h1v1h-1zM732 699h1v1h-1zM733 698h1v1h-1zM734 697h1v1h-1zM735 696h1v1h-1zM736 695h1v1h-1zM737 694h1v1h-1zM739 691h1v1h-1zM741 688h1v1h-1zM743 685h1v1h-1zM745 682h1v1h-1zM747 679h1v1h-1zM749 677h1v1h-1zM750 676h1v1h-1zM751 675h1v1h-1zM752 674h1v1h-1zM760 667h1v1h-1zM761 666h1v1h-1zM791 639h1v5h-1zM800 634h1v5h-1zM852 608h1v6h-1z" fill="#ccedfb"/>
<path d="M568.9,602.3V943.6" stroke="#1e1e1e" stroke-width="1.3" fill="none"/>
<path d="M564.0,943.60H568.9" stroke="#1e1e1e" stroke-width="1.3"/>
<text x="560.40" y="948.40" font-size="14" text-anchor="end">0</text>
<path d="M564.0,875.34H568.9" stroke="#1e1e1e" stroke-width="1.3"/>
<text x="560.40" y="880.14" font-size="14" text-anchor="end">20</text>
<path d="M564.0,807.08H568.9" stroke="#1e1e1e" stroke-width="1.3"/>
<text x="560.40" y="811.88" font-size="14" text-anchor="end">40</text>
<path d="M564.0,738.82H568.9" stroke="#1e1e1e" stroke-width="1.3"/>
<text x="560.40" y="743.62" font-size="14" text-anchor="end">60</text>
<path d="M564.0,670.56H568.9" stroke="#1e1e1e" stroke-width="1.3"/>
<text x="560.40" y="675.36" font-size="14" text-anchor="end">80</text>
<path d="M564.0,602.30H568.9" stroke="#1e1e1e" stroke-width="1.3"/>
<text x="560.40" y="607.10" font-size="14" text-anchor="end">100</text>
<path d="M576.0,943.6H939.8" stroke="#1e1e1e" stroke-width="1.3" fill="none"/>
<path d="M576.00,943.6V948.3" stroke="#1e1e1e" stroke-width="1.3"/>
<text x="576.00" y="963.90" font-size="14" text-anchor="middle">0</text>
<path d="M687.60,943.6V948.3" stroke="#1e1e1e" stroke-width="1.3"/>
<text x="687.60" y="963.90" font-size="14" text-anchor="middle">500</text>
<path d="M800.70,943.6V948.3" stroke="#1e1e1e" stroke-width="1.3"/>
<text x="800.70" y="963.90" font-size="14" text-anchor="middle">1,000</text>
<path d="M913.80,943.6V948.3" stroke="#1e1e1e" stroke-width="1.3"/>
<text x="913.80" y="963.90" font-size="14" text-anchor="middle">1,500</text>
<text x="768.40" y="985.00" font-size="17" text-anchor="middle" textLength="50.00" lengthAdjust="spacingAndGlyphs">Genes</text>
<text x="531.20" y="767.20" font-size="17" text-anchor="middle" textLength="186.50" lengthAdjust="spacingAndGlyphs" transform="rotate(-90 531.20 767.20)">Fraction of cell types (%)</text>
<rect x="593.80" y="602.80" width="10.40" height="8.40" fill="#66caf3" stroke="#272727" stroke-width="1.2"/>
<text x="611.40" y="612.80" font-size="16" textLength="40.80" lengthAdjust="spacingAndGlyphs">Weak</text>
<rect x="593.80" y="624.50" width="10.40" height="8.40" fill="#3f7cc1" stroke="#272727" stroke-width="1.2"/>
<text x="611.40" y="633.40" font-size="16" textLength="69.60" lengthAdjust="spacingAndGlyphs">Moderate</text>
<rect x="593.80" y="644.60" width="10.40" height="8.40" fill="#4e488f" stroke="#272727" stroke-width="1.2"/>
<text x="611.40" y="653.50" font-size="16" textLength="48.20" lengthAdjust="spacingAndGlyphs">Strong</text>
</svg></body></html>
